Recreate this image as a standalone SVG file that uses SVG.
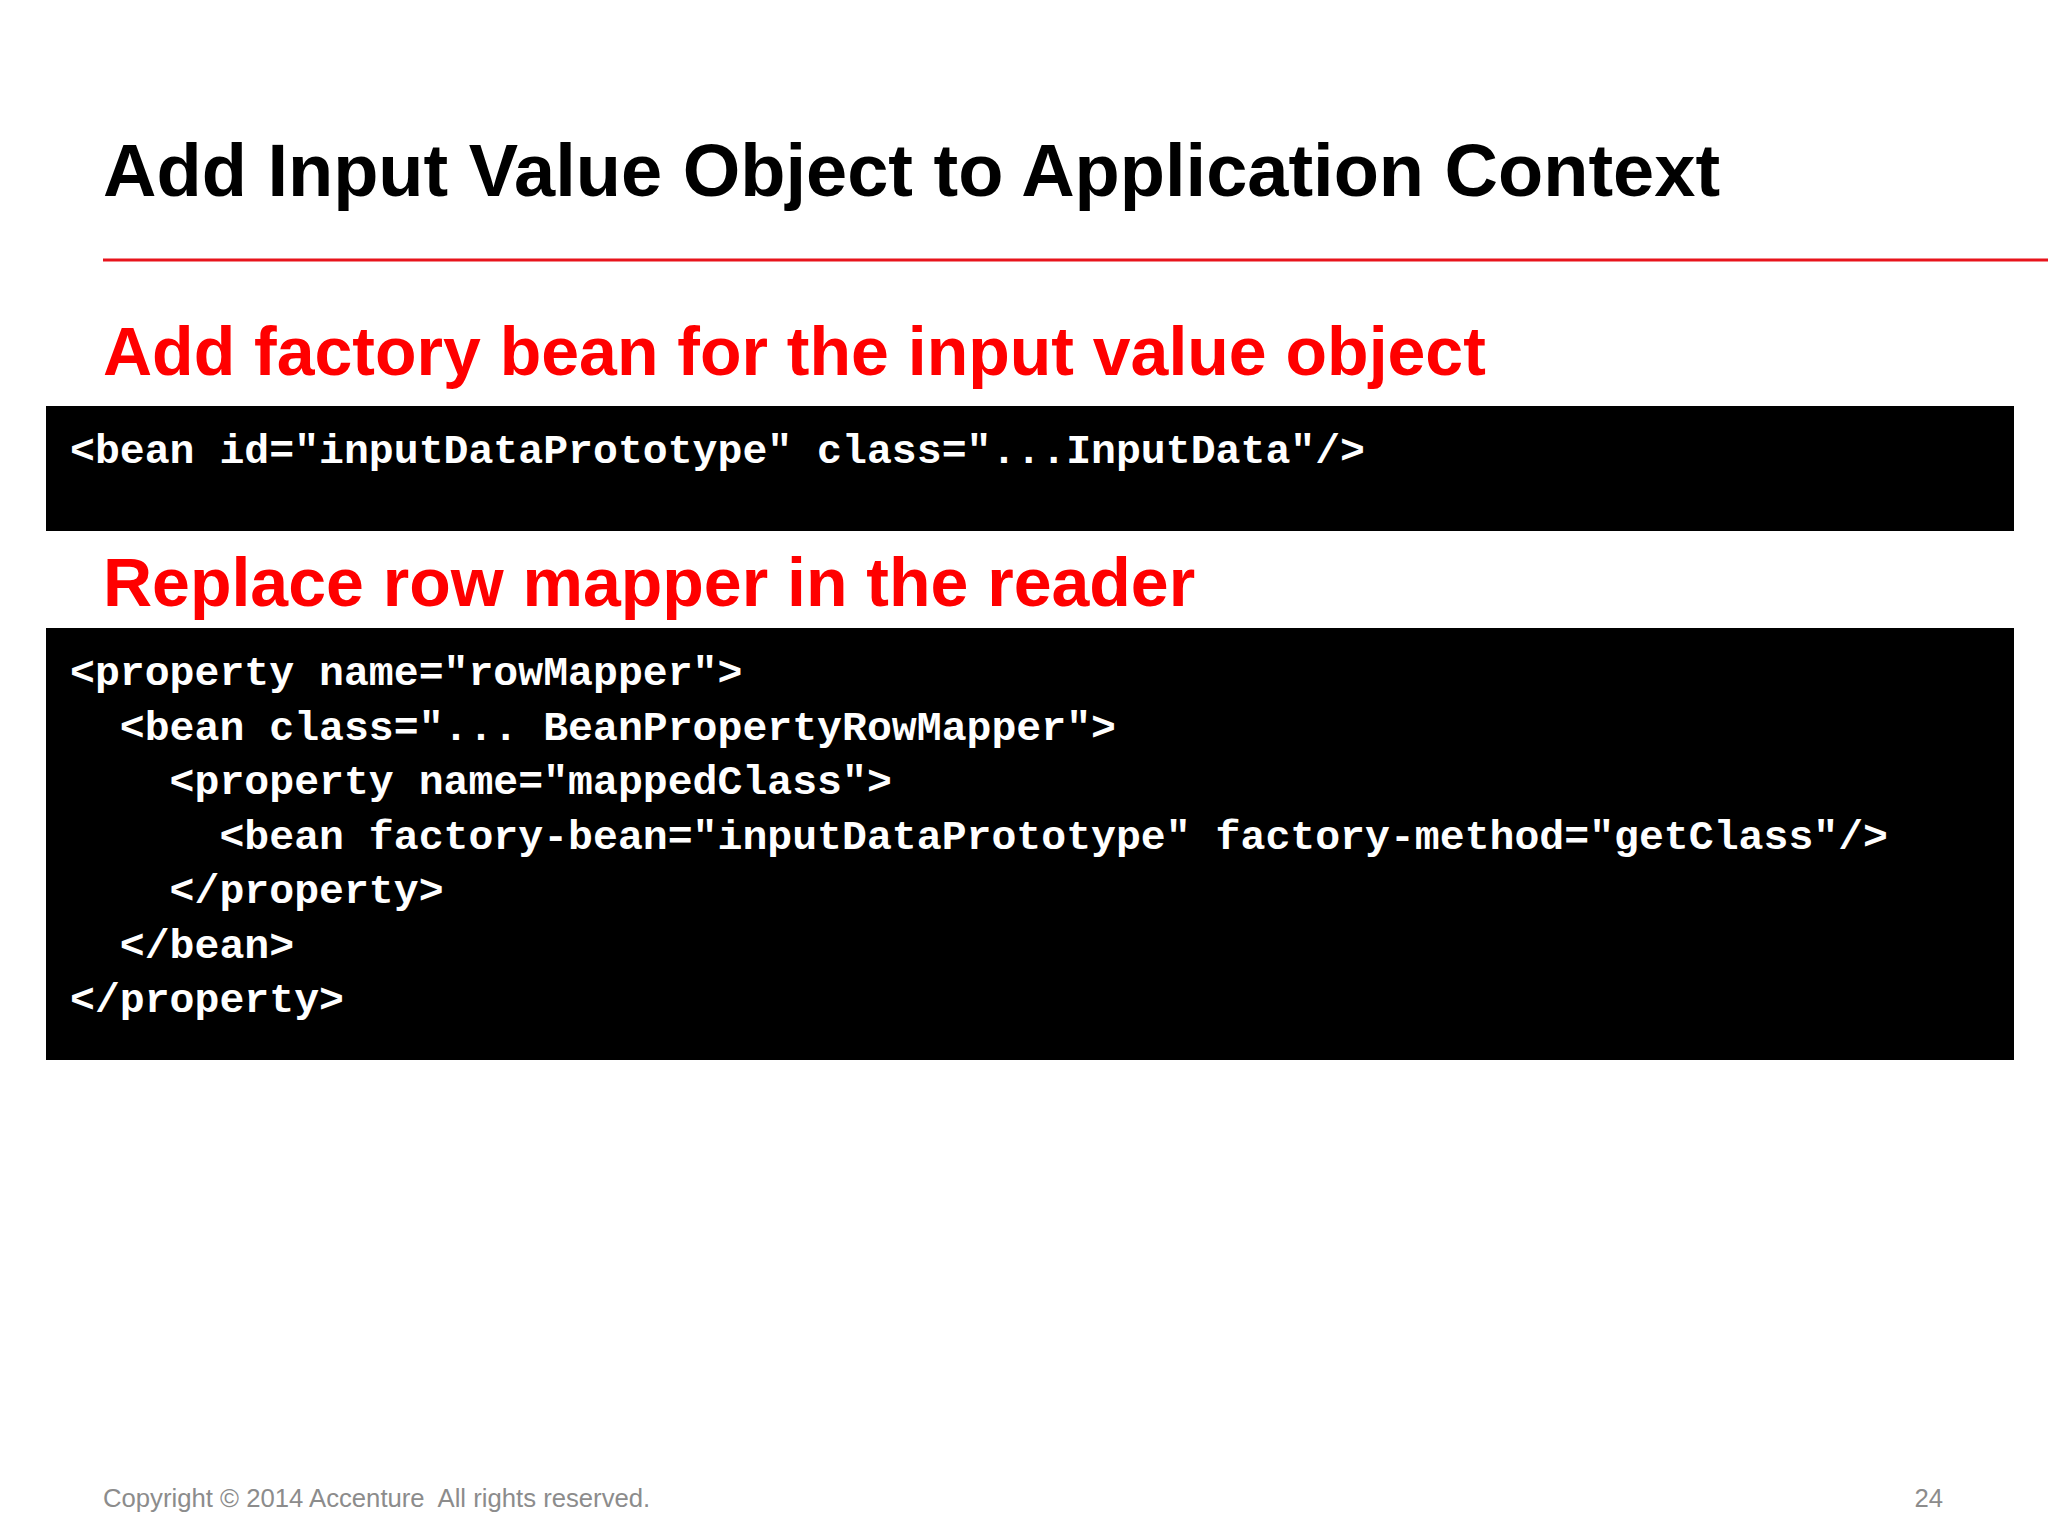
<svg xmlns="http://www.w3.org/2000/svg" width="2048" height="1536" viewBox="0 0 2048 1536">
<style>
.h{font-family:"Liberation Sans",Arial,sans-serif;font-weight:bold}
.c{font-family:"Liberation Mono","DejaVu Sans Mono",monospace;font-size:41.5px;font-weight:bold;fill:#fff;white-space:pre}
.f{font-family:"Liberation Sans",Arial,sans-serif;font-size:25.7px;fill:#8c8c8c}
</style>
<rect width="2048" height="1536" fill="#fff"/>
<g id="title"><text class="h" x="103" y="196" font-size="74" fill="#000">Add Input Value Object to Application Context</text>
<line x1="103" y1="260" x2="2048" y2="260" stroke="#e8141c" stroke-width="3"/></g>
<g id="sub1"><text class="h" x="103" y="375" font-size="68" fill="#f00">Add factory bean for the input value object</text></g>
<g id="box1"><rect x="46" y="406" width="1968" height="125" fill="#000"/>
<text class="c" x="70" y="463" xml:space="preserve">&lt;bean id="inputDataPrototype" class="...InputData"/&gt;</text></g>
<g id="sub2"><text class="h" x="103" y="606" font-size="68" fill="#f00">Replace row mapper in the reader</text></g>
<g id="box2"><rect x="46" y="628" width="1968" height="432" fill="#000"/>
<text class="c" xml:space="preserve"><tspan x="70" y="685">&lt;property name="rowMapper"&gt;</tspan><tspan x="70" y="740">  &lt;bean class="... BeanPropertyRowMapper"&gt;</tspan><tspan x="70" y="794">    &lt;property name="mappedClass"&gt;</tspan><tspan x="70" y="849">      &lt;bean factory-bean="inputDataPrototype" factory-method="getClass"/&gt;</tspan><tspan x="70" y="903">    &lt;/property&gt;</tspan><tspan x="70" y="958">  &lt;/bean&gt;</tspan><tspan x="70" y="1012">&lt;/property&gt;</tspan></text></g>
<g id="footer"><text class="f" x="103" y="1507" xml:space="preserve">Copyright © 2014 Accenture  All rights reserved.</text>
<text class="f" x="1943" y="1507" text-anchor="end">24</text></g>
</svg>
